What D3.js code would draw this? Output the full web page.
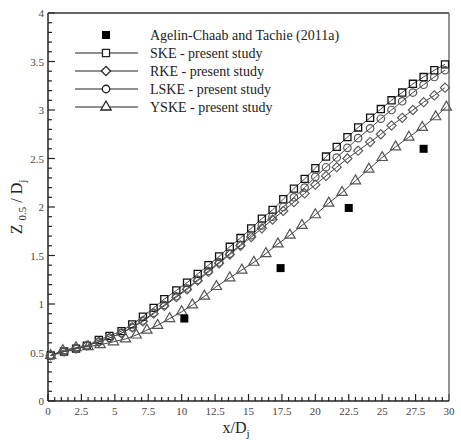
<!DOCTYPE html>
<html>
<head>
<meta charset="utf-8">
<script src="https://cdn.jsdelivr.net/npm/d3@7"></script>
<style>
  html, body { margin: 0; padding: 0; background: #fff; }
  svg { display: block; }
  text { font-family: "Liberation Serif", "Times New Roman", serif; }
</style>
</head>
<body>
<svg id="chart" width="461" height="440"></svg>
<script>
// Jet half-width growth Z0.5/Dj versus streamwise distance x/Dj

const xTicks = [0, 2.5, 5, 7.5, 10, 12.5, 15, 17.5, 20, 22.5, 25, 27.5, 30];
const xTickLabels = ["0", "2.5", "5", "7.5", "10", "12.5", "15", "17.5", "20", "22.5", "25", "27.5", "30"];
const yTicks = [0, 0.5, 1, 1.5, 2, 2.5, 3, 3.5, 4];
const yTickLabels = ["0", "0.5", "1", "1.5", "2", "2.5", "3", "3.5", "4"];

// Experimental data (Agelin-Chaab and Tachie, 2011a)
const expX = [10.2, 17.4, 22.5, 28.1];
const expY = [0.85, 1.37, 1.99, 2.60];

// Shared streamwise stations for the SKE, RKE and LSKE computations
const modelX = [0.2, 1.2, 2.1, 2.9, 3.8, 4.6, 5.5, 6.3, 7.1, 7.9, 8.7, 9.6, 10.4, 11.2, 12.0, 12.8, 13.6, 14.4, 15.2,
                16.0, 16.8, 17.6, 18.4, 19.2, 20.0, 20.8, 21.6, 22.4, 23.2, 24.1, 24.9, 25.7, 26.5, 27.3, 28.1, 28.9, 29.7];

const skeY  = [0.47, 0.51, 0.54, 0.57, 0.63, 0.67, 0.72, 0.79, 0.87, 0.96, 1.05, 1.14, 1.22, 1.31, 1.40, 1.49, 1.59, 1.68, 1.78,
               1.88, 1.97, 2.08, 2.19, 2.29, 2.40, 2.52, 2.62, 2.72, 2.82, 2.92, 3.01, 3.10, 3.18, 3.27, 3.34, 3.41, 3.47];
const rkeY  = [0.47, 0.51, 0.54, 0.57, 0.61, 0.65, 0.70, 0.76, 0.82, 0.90, 0.98, 1.07, 1.15, 1.24, 1.33, 1.42, 1.51, 1.60, 1.69,
               1.78, 1.87, 1.96, 2.05, 2.14, 2.23, 2.32, 2.41, 2.50, 2.58, 2.67, 2.75, 2.84, 2.92, 3.00, 3.08, 3.15, 3.23];
const lskeY = [0.47, 0.51, 0.54, 0.57, 0.61, 0.65, 0.70, 0.76, 0.83, 0.91, 0.99, 1.08, 1.16, 1.25, 1.34, 1.43, 1.52, 1.61, 1.71,
               1.81, 1.90, 2.00, 2.10, 2.20, 2.31, 2.41, 2.51, 2.61, 2.71, 2.81, 2.91, 3.00, 3.09, 3.18, 3.26, 3.34, 3.41];

// YSKE computation stations
const yskeX = [0.2, 1.1, 2.1, 3.0, 3.9, 4.9, 5.8, 6.6, 7.4, 8.2, 9.1, 10.0, 10.8, 11.7, 12.6, 13.6, 14.5, 15.4, 16.3, 17.2,
               18.1, 19.0, 20.0, 21.0, 22.0, 23.0, 24.0, 25.0, 26.0, 27.0, 28.0, 29.0, 29.8];
const yskeY = [0.47, 0.52, 0.55, 0.56, 0.58, 0.61, 0.64, 0.68, 0.73, 0.78, 0.85, 0.92, 0.99, 1.08, 1.18, 1.27, 1.35, 1.43, 1.52, 1.62,
               1.71, 1.81, 1.92, 2.04, 2.15, 2.27, 2.39, 2.51, 2.62, 2.72, 2.82, 2.93, 3.03];

const seriesNames = ["SKE - present study", "RKE - present study", "LSKE - present study", "YSKE - present study"];
const expName = "Agelin-Chaab and Tachie (2011a)";

const svg = d3.select("#chart");
const x = d3.scaleLinear().domain([0, 30]).range([48, 449]);
const y = d3.scaleLinear().domain([0, 4]).range([401, 13]);

// Marker shapes
const symSquare = d3.symbol().type(d3.symbolSquare).size(50);
const symCircle = d3.symbol().type(d3.symbolCircle).size(44);
const symTriangle = d3.symbol().type(d3.symbolTriangle).size(46);
function diamondPath(r) {
  return `M0,${-r}L${r},0L0,${r}L${-r},0Z`;
}

const series = [
  { name: seriesNames[0], xs: modelX, ys: skeY,  path: symSquare(),     stroke: "#111", lw: 1.3 },
  { name: seriesNames[1], xs: modelX, ys: rkeY,  path: diamondPath(4.6), stroke: "#555", lw: 1.1 },
  { name: seriesNames[2], xs: modelX, ys: lskeY, path: symCircle(),     stroke: "#555", lw: 1.2 },
  { name: seriesNames[3], xs: yskeX,  ys: yskeY, path: symTriangle(),   stroke: "#555", lw: 1.2 }
];

// Axis ticks (inward pointing, major + minor)
const axisG = svg.append("g");
const xMinor = d3.range(0, 30.001, 0.5);
const yMinor = d3.range(0, 4.001, 0.1);
axisG.selectAll(".xt").data(xMinor).join("line")
  .attr("x1", d => x(d)).attr("x2", d => x(d))
  .attr("y1", y(0))
  .attr("y2", d => y(0) - (Math.abs(d / 2.5 - Math.round(d / 2.5)) < 1e-6 ? 7 : 4))
  .attr("stroke", "#222").attr("stroke-width", 1.2);
axisG.selectAll(".yt").data(yMinor).join("line")
  .attr("y1", d => y(d)).attr("y2", d => y(d))
  .attr("x1", x(0))
  .attr("x2", d => x(0) + (Math.abs(d / 0.5 - Math.round(d / 0.5)) < 1e-6 ? 7 : 4))
  .attr("stroke", "#222").attr("stroke-width", 1.2);

// Frame
svg.append("line").attr("x1", x(0)).attr("x2", x(30)).attr("y1", y(4)).attr("y2", y(4)).attr("stroke", "#333").attr("stroke-width", 1.3);
svg.append("line").attr("x1", x(30)).attr("x2", x(30)).attr("y1", y(4)).attr("y2", y(0)).attr("stroke", "#666").attr("stroke-width", 1.4);
svg.append("line").attr("x1", x(0)).attr("x2", x(0)).attr("y1", y(4)).attr("y2", y(0)).attr("stroke", "#222").attr("stroke-width", 1.5);
svg.append("line").attr("x1", x(0)).attr("x2", x(30)).attr("y1", y(0)).attr("y2", y(0)).attr("stroke", "#222").attr("stroke-width", 1.5);

// Tick labels
svg.append("g").selectAll("text").data(xTicks).join("text")
  .attr("x", d => x(d)).attr("y", 415)
  .attr("text-anchor", "middle").attr("font-size", 11).attr("fill", "#444")
  .text((d, i) => xTickLabels[i]);
svg.append("g").selectAll("text").data(yTicks).join("text")
  .attr("x", 44).attr("y", d => y(d) + 4)
  .attr("text-anchor", "end").attr("font-size", 11).attr("fill", "#444")
  .text((d, i) => yTickLabels[i]);

// Axis titles
const xt = svg.append("text").attr("x", 236).attr("y", 433).attr("text-anchor", "middle")
  .attr("font-size", 16).attr("fill", "#222");
xt.append("tspan").text("x/D");
xt.append("tspan").attr("font-size", 11).attr("dy", 4).text("j");

const yt = svg.append("text").attr("transform", "translate(22,207) rotate(-90)")
  .attr("text-anchor", "middle").attr("font-size", 16).attr("fill", "#222");
yt.append("tspan").text("Z ");
yt.append("tspan").attr("font-size", 11).attr("dy", 4).text("0.5");
yt.append("tspan").attr("dy", -4).text(" / D");
yt.append("tspan").attr("font-size", 11).attr("dy", 4).text("j");

// Model curves and markers
const line = d3.line().x(d => x(d[0])).y(d => y(d[1]));
const plotG = svg.append("g");
series.forEach(s => {
  const pts = s.xs.map((v, i) => [v, s.ys[i]]);
  plotG.append("path").datum(pts).attr("d", line)
    .attr("fill", "none").attr("stroke", "#444").attr("stroke-width", 1);
});
series.forEach(s => {
  const pts = s.xs.map((v, i) => [v, s.ys[i]]);
  plotG.append("g").selectAll("path").data(pts).join("path")
    .attr("d", s.path)
    .attr("transform", d => `translate(${x(d[0])},${y(d[1])})`)
    .attr("fill", "none").attr("stroke", s.stroke).attr("stroke-width", s.lw);
});

// Experimental points
plotG.append("g").selectAll("rect").data(expX.map((v, i) => [v, expY[i]])).join("rect")
  .attr("x", d => x(d[0]) - 4).attr("y", d => y(d[1]) - 4)
  .attr("width", 8).attr("height", 8).attr("fill", "#000");

// Legend
const legend = svg.append("g");
const lgX0 = 75, lgX1 = 138, lgMid = 106, lgText = 150;
const lgRows = [35, 53, 71, 89, 107];
legend.append("rect").attr("x", lgMid - 4).attr("y", lgRows[0] - 4).attr("width", 8).attr("height", 8).attr("fill", "#000");
legend.append("text").attr("x", lgText).attr("y", lgRows[0] + 5).attr("font-size", 14).attr("fill", "#222").text(expName);
series.forEach((s, i) => {
  const ry = lgRows[i + 1];
  legend.append("line").attr("x1", lgX0).attr("x2", lgX1).attr("y1", ry).attr("y2", ry).attr("stroke", "#222").attr("stroke-width", 1.2);
  legend.append("path").attr("d", s.path).attr("transform", `translate(${lgMid},${ry})`)
    .attr("fill", "#fff").attr("stroke", "#222").attr("stroke-width", 1.3);
  legend.append("text").attr("x", lgText).attr("y", ry + 5).attr("font-size", 14).attr("fill", "#222").text(s.name);
});
</script>
</body>
</html>
